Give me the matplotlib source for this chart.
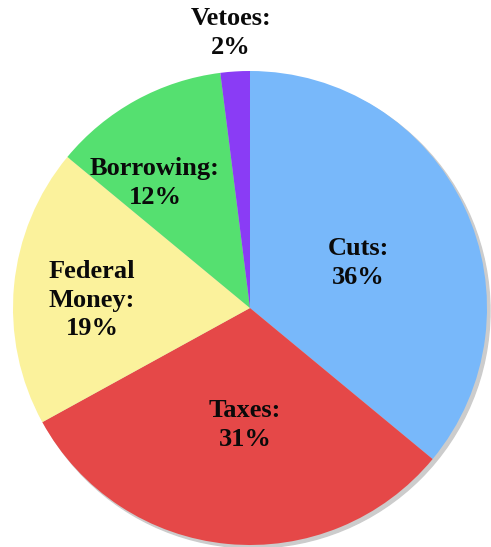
import matplotlib.pyplot as plt
from matplotlib.patches import Circle

labels = ["Cuts:\n36%", "Taxes:\n31%", "Federal\nMoney:\n19%", "Borrowing:\n12%", "Vetoes:\n2%"]
shares = [36, 31, 19, 12, 2]
colors = ["#78b8fa", "#e54848", "#fbf29c", "#55e070", "#8a3cf5"]

# label centres in pixels (x from left, y from top)
label_pos = [(358, 263), (245, 425), (92, 300), (155, 183), (231, 33)]

W, H = 491, 547
cx, cy, r = 250, 308, 237

fig = plt.figure(figsize=(W / 100, H / 100), dpi=100)
ax = fig.add_axes([0, 0, 1, 1])
ax.set_xlim(0, W)
ax.set_ylim(0, H)
ax.set_aspect("equal")
ax.axis("off")

# soft grey shadow at the lower right
ax.add_patch(Circle((cx + 3, H - cy - 3), r, color="#cccccc", zorder=0))

ax.pie(shares, colors=colors, startangle=90, counterclock=False,
       center=(cx, H - cy), radius=r, frame=True,
       wedgeprops=dict(linewidth=0))
ax.set_xlim(0, W)
ax.set_ylim(0, H)
ax.axis("off")

for lab, (x, y) in zip(labels, label_pos):
    ax.text(x, H - y, lab, ha="center", va="center", family="Liberation Serif",
            fontweight="bold", fontsize=19, linespacing=1.3, color="#0a0a0a")

fig.savefig("out.png", dpi=100)
